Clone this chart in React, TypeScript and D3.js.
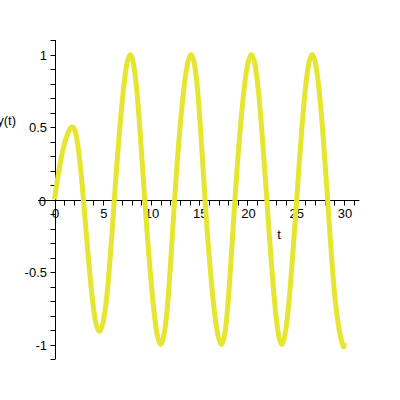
import React from 'react'
import * as d3 from 'd3'

// values: t and y(t)
const tValues = [
  0, 0.8, 1.8, 2.45, 3.0, 3.85, 4.65, 5.45, 6.2, 7.05, 7.85, 8.6, 9.35, 10.2, 11.0, 11.75,
  12.45, 13.3, 14.15, 14.9, 15.6, 16.45, 17.3, 18.0, 18.7, 19.55, 20.4, 21.2, 22.0, 22.8,
  23.55, 24.3, 25.1, 25.9, 26.7, 27.5, 28.3, 29.1, 29.85, 30,
]
const yValues = [
  0, 0.32, 0.5, 0.36, 0, -0.64, -0.91, -0.65, 0, 0.7, 1.0, 0.7, 0, -0.7, -1.0, -0.7,
  0, 0.7, 1.0, 0.7, 0, -0.7, -1.0, -0.7, 0, 0.7, 1.0, 0.7, 0, -0.7,
  -1.0, -0.7, 0, 0.7, 1.0, 0.7, 0, -0.7, -1.0, -0.99,
]
const xTickLabels = [0, 5, 10, 15, 20, 25, 30]
const yTickLabels = [-1, -0.5, 0, 0.5, 1]

const App = () => {
  const x = d3.scaleLinear().domain([0, 30]).range([54.5, 344])
  const y = d3.scaleLinear().domain([-1, 1]).range([344.5, 54.5])

  const line = d3
    .line<number>()
    .x((d, i) => x(tValues[i]))
    .y((d) => y(d))
    .curve(d3.curveNatural)

  const xMinor = d3.range(0, 32, 1)
  const yMinor = d3.range(-11, 12, 1).map((k) => k / 10)
  const x0 = Math.round(x(0)) + 0.5
  const y0 = Math.round(y(0)) + 0.5
  const font = 'Liberation Sans, Arial, sans-serif'

  return (
    <svg
      width={400}
      height={400}
      style={{ position: 'absolute', left: 0, top: 0, background: '#fff' }}
    >
      {/* x axis */}
      <line x1={38} x2={x(31.6)} y1={y0} y2={y0} stroke="#000" />
      {xMinor.map((t) => (
        <line
          key={'xt' + t}
          x1={Math.round(x(t)) + 0.5}
          x2={Math.round(x(t)) + 0.5}
          y1={y0}
          y2={y0 + 5}
          stroke="#000"
        />
      ))}
      {xTickLabels.map((t) => (
        <text
          key={'xl' + t}
          x={x(t) + 1}
          y={218}
          textAnchor="middle"
          fontFamily={font}
          fontSize={13}
        >
          {t}
        </text>
      ))}
      {/* y axis */}
      <line x1={x0} x2={x0} y1={y(1.1)} y2={y(-1.1)} stroke="#000" />
      {yMinor.map((v) => (
        <line
          key={'yt' + v}
          x1={x0 - 5}
          x2={x0}
          y1={Math.round(y(v)) + 0.5}
          y2={Math.round(y(v)) + 0.5}
          stroke="#000"
        />
      ))}
      {yTickLabels.map((v) => (
        <text
          key={'yl' + v}
          x={v === 0 ? 46 : 47}
          y={y(v) + (v === 0 ? 6 : 5)}
          textAnchor="end"
          fontFamily={font}
          fontSize={13}
        >
          {v}
        </text>
      ))}
      {/* axis titles */}
      <text x={279} y={239} textAnchor="middle" fontFamily={font} fontSize={13}>
        t
      </text>
      <text x={16} y={125} textAnchor="end" fontFamily={font} fontSize={13}>
        y(t)
      </text>
      {/* curve */}
      <path
        d={line(yValues) || ''}
        fill="none"
        stroke="#e6e632"
        strokeWidth={5}
        strokeLinejoin="round"
        strokeLinecap="butt"
      />
    </svg>
  )
}

export default App
